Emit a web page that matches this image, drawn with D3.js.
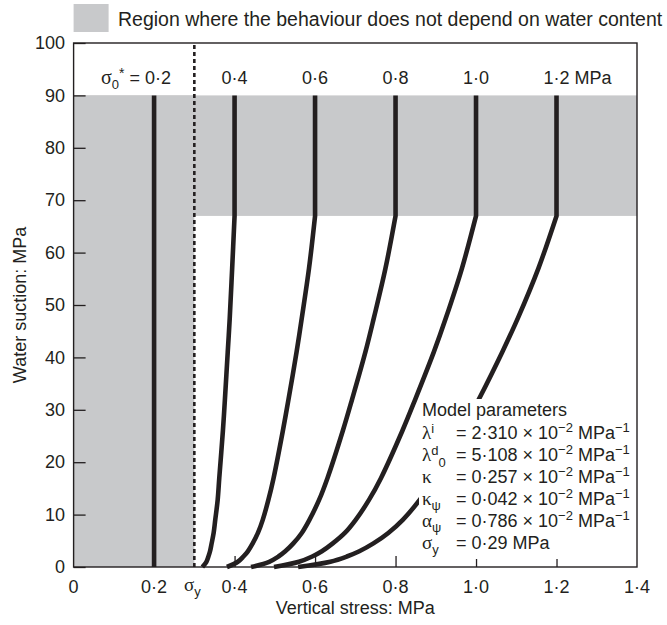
<!DOCTYPE html>
<html><head><meta charset="utf-8">
<script src="https://cdn.jsdelivr.net/npm/d3@7"></script>
<style>
body{margin:0;background:#fff}
svg{display:block}
text, tspan{font-family:"Liberation Sans",Arial,sans-serif;fill:#231f20}
.gk{font-family:"Liberation Serif","Times New Roman",serif}
</style>
</head><body>
<svg id="c" width="667" height="625"></svg>
<script>
// ---------- data ----------
const xTickValues = [0, 0.2, 0.4, 0.6, 0.8, 1.0, 1.2, 1.4];
const xTickLabels = ["0", "0·2", "0·4", "0·6", "0·8", "1·0", "1·2", "1·4"];
const yTickValues = [0, 10, 20, 30, 40, 50, 60, 70, 80, 90, 100];
const sigmaY = 0.29;          // yield stress parameter (MPa)
const sigmaYLine = 0.30;      // position of dashed line as drawn
const yieldStresses = [0.2, 0.4, 0.6, 0.8, 1.0, 1.2];
const topLabels = ["0·2", "0·4", "0·6", "0·8", "1·0", "1·2"];
const suctionTop = 90;
const suctionKnee = 67;
// suction levels at which the curves were read (MPa)
const suctions = [67, 57, 47.5, 41, 32, 26, 17, 12.8, 9, 6.5, 4.5, 3, 2, 1, 0];
// vertical stress (MPa) of each curve at those suctions
const stress04 = [0.400, 0.394, 0.388, 0.383, 0.376, 0.371, 0.362, 0.358, 0.352, 0.348, 0.343, 0.339, 0.335, 0.330, 0.320];
const stress06 = [0.600, 0.585, 0.567, 0.554, 0.534, 0.520, 0.497, 0.484, 0.470, 0.458, 0.445, 0.433, 0.422, 0.408, 0.381];
const stress08 = [0.800, 0.775, 0.746, 0.725, 0.692, 0.669, 0.631, 0.610, 0.586, 0.567, 0.546, 0.526, 0.509, 0.486, 0.441];
const stress10 = [1.000, 0.965, 0.925, 0.895, 0.849, 0.817, 0.764, 0.734, 0.701, 0.674, 0.644, 0.617, 0.593, 0.560, 0.498];
const stress12 = [1.200, 1.155, 1.104, 1.065, 1.007, 0.966, 0.898, 0.860, 0.818, 0.782, 0.745, 0.710, 0.679, 0.638, 0.558];
const curveStresses = [stress04, stress06, stress08, stress10, stress12];
const legendText = "Region where the behaviour does not depend on water content";
const params = [
  {sym:"λ", sup:"i", sub:null, val:"2·310", unit:true},
  {sym:"λ", sup:"d", sub:"0", val:"5·108", unit:true},
  {sym:"κ", sup:null, sub:null, val:"0·257", unit:true},
  {sym:"κ", sup:null, sub:"ψ", val:"0·042", unit:true},
  {sym:"α", sup:null, sub:"ψ", val:"0·786", unit:true},
  {sym:"σ", sup:null, sub:"y", val:"0·29 MPa", unit:false}
];

// ---------- layout ----------
const svg = d3.select("#c");
const L = 73.6, R = 637, T = 43, B = 567;
const x = d3.scaleLinear().domain([0, 1.4]).range([L, R]);
const y = d3.scaleLinear().domain([0, 100]).range([B, T]);
const ink = "#231f20", grey = "#c8c9cb";

// grey regions
svg.append("rect").attr("x", x(0)).attr("y", y(suctionTop))
  .attr("width", x(sigmaYLine) - x(0)).attr("height", y(0) - y(suctionTop)).attr("fill", grey);
svg.append("rect").attr("x", x(0)).attr("y", y(suctionTop))
  .attr("width", x(1.4) - x(0)).attr("height", y(suctionKnee) - y(suctionTop)).attr("fill", grey);

// axes ticks (inward)
const xAxis = d3.axisBottom(x).tickValues(xTickValues.slice(1, -1)).tickSize(-11).tickFormat("");
const gx = svg.append("g").attr("transform", `translate(0,${B})`).call(xAxis);
gx.select(".domain").remove();
gx.selectAll("line").attr("stroke", ink).attr("stroke-width", 1.3);

const yAxis = d3.axisLeft(y).tickValues(yTickValues).tickSize(-12).tickPadding(8.5);
const gy = svg.append("g").attr("transform", `translate(${L},0)`).call(yAxis);
gy.select(".domain").remove();
gy.selectAll("line").attr("stroke", ink).attr("stroke-width", 1.3);
gy.selectAll("text").attr("font-size", 18).attr("fill", ink)
  .style("font-family", '"Liberation Sans",Arial,sans-serif');

// dashed sigma_y line
svg.append("line").attr("x1", x(sigmaYLine)).attr("x2", x(sigmaYLine))
  .attr("y1", y(0)).attr("y2", y(100)).attr("stroke", ink)
  .attr("stroke-width", 2.6).attr("stroke-dasharray", "4,3");

// 0.2 line (fully vertical)
svg.append("line").attr("x1", x(yieldStresses[0])).attr("x2", x(yieldStresses[0]))
  .attr("y1", y(0)).attr("y2", y(suctionTop)).attr("stroke", ink).attr("stroke-width", 4.6);

// yield curves
const line = d3.line().x(d => x(d[0])).y(d => y(d[1])).curve(d3.curveCatmullRom.alpha(0.5));
curveStresses.forEach((st, i) => {
  const s0 = yieldStresses[i + 1];
  const pts = st.map((v, j) => [v, suctions[j]]);
  const d = `M${x(s0)},${y(suctionTop)}L` + line(pts).slice(1);
  svg.append("path").attr("d", d).attr("fill", "none").attr("stroke", ink)
    .attr("stroke-width", 4.6).attr("stroke-linejoin", "miter");
});

// frame
svg.append("rect").attr("x", L).attr("y", T).attr("width", R - L).attr("height", B - T)
  .attr("fill", "none").attr("stroke", ink).attr("stroke-width", 1.4);

// x tick labels
xTickValues.forEach((v, i) => {
  svg.append("text").attr("x", x(v)).attr("y", 593).attr("text-anchor", "middle")
    .attr("font-size", 18).text(xTickLabels[i]);
});
const sy = svg.append("text").attr("x", x(sigmaY) + 2).attr("y", 591).attr("text-anchor", "middle").attr("font-size", 18);
sy.append("tspan").attr("class", "gk").attr("font-size", 19).text("σ");
sy.append("tspan").attr("font-size", 13).attr("dy", 5).text("y");

// axis titles
svg.append("text").attr("x", (L + R) / 2).attr("y", 614).attr("text-anchor", "middle")
  .attr("font-size", 18).text("Vertical stress: MPa");
svg.append("text").attr("transform", `translate(26,${(T + B) / 2}) rotate(-90)`)
  .attr("text-anchor", "middle").attr("font-size", 18).text("Water suction: MPa");

// top labels
const lab0 = svg.append("text").attr("x", x(yieldStresses[0]) + 17).attr("y", 84)
  .attr("text-anchor", "end").attr("font-size", 18);
lab0.append("tspan").attr("class", "gk").attr("font-size", 20).text("σ");
lab0.append("tspan").attr("font-size", 13).attr("dy", 5).text("0");
lab0.append("tspan").attr("font-size", 14).attr("dy", -11).text("*");
lab0.append("tspan").attr("dy", 6).text(" = " + topLabels[0]);
yieldStresses.slice(1).forEach((v, i) => {
  const t = svg.append("text").attr("x", x(v)).attr("y", 84).attr("text-anchor", "middle")
    .attr("font-size", 18).text(topLabels[i + 1]);
  if (i === yieldStresses.length - 2) {
    const w = t.node().getComputedTextLength();
    svg.append("text").attr("x", x(v) + w / 2 + 5).attr("y", 84).attr("font-size", 18).text("MPa");
  }
});

// legend
svg.append("rect").attr("x", L).attr("y", 4).attr("width", 35).attr("height", 28).attr("fill", grey);
svg.append("text").attr("x", 118).attr("y", 26).attr("font-size", 19.5).text(legendText);

// model parameters box
svg.append("rect").attr("x", 419).attr("y", 399).attr("width", R - 419 - 1).attr("height", 160).attr("fill", "#fff");
svg.append("text").attr("x", 422).attr("y", 416).attr("font-size", 18).text("Model parameters");
params.forEach((p, i) => {
  const by = 438.5 + i * 22;
  const s = svg.append("text").attr("x", 422).attr("y", by).attr("font-size", 18);
  s.append("tspan").attr("class", "gk").attr("font-size", 19).attr("fill", ink).text(p.sym);
  if (p.sup) {
    s.append("tspan").attr("font-size", 13).attr("dy", -6).attr("fill", ink).text(p.sup);
    if (p.sub) s.append("tspan").attr("font-size", 13).attr("dy", 12).attr("fill", ink).text(p.sub);
  } else if (p.sub) {
    s.append("tspan").attr("font-size", 13).attr("dy", 5).attr("fill", ink).text(p.sub);
  }
  const v = svg.append("text").attr("x", 456).attr("y", by).attr("font-size", 18);
  if (p.unit) {
    v.append("tspan").text("= " + p.val + " × 10");
    v.append("tspan").attr("font-size", 13).attr("dy", -7).text("−2");
    v.append("tspan").attr("dy", 7).text(" MPa");
    v.append("tspan").attr("font-size", 13).attr("dy", -7).text("−1");
  } else {
    v.append("tspan").text("= " + p.val);
  }
});
</script>
</body></html>
